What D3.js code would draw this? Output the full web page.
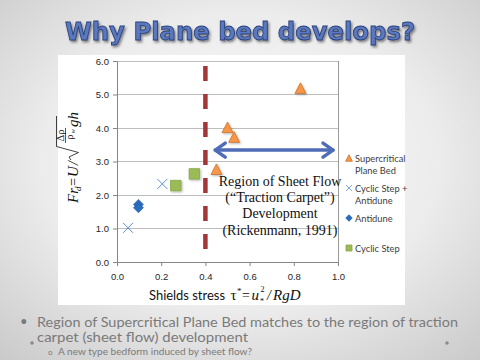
<!DOCTYPE html>
<html>
<head>
<meta charset="utf-8">
<script src="https://cdn.jsdelivr.net/npm/d3@7"></script>
<style>
  body { margin: 0; }
  svg { display: block; }
</style>
</head>
<body>
<div id="chart"></div>
<script>
// values
const planeBedX = [0.83, 0.50, 0.53, 0.45];
const planeBedY = [5.19, 4.02, 3.73, 2.77];
const stepAntiduneX = [0.05, 0.205];
const stepAntiduneY = [1.02, 2.33];
const antiduneX = [0.097, 0.097];
const antiduneY = [1.72, 1.62];
const cyclicStepX = [0.266, 0.35];
const cyclicStepY = [2.28, 2.63];

const xTicks = [0, 0.2, 0.4, 0.6, 0.8, 1.0];
const yTicks = [0, 1, 2, 3, 4, 5, 6];
const legendLabels = [["Supercritical", "Plane Bed"], ["Cyclic Step +", "Antidune"], ["Antidune"], ["Cyclic Step"]];
const sheetFlowText = ["Region of Sheet Flow", "(\u201CTraction Carpet\u201D)", "Development", "(Rickenmann, 1991)"];
const thresholdShields = 0.4;
const thresholdSpan = [0.36, 5.85];
const arrowSpan = [0.44, 0.982];
const arrowLevel = 3.34;

const W = 480, H = 360;
const svg = d3.select("#chart").append("svg").attr("width", W).attr("height", H);
const defs = svg.append("defs");

const bg = defs.append("radialGradient").attr("id", "bg")
    .attr("cx", "50%").attr("cy", "45%").attr("r", "75%");
bg.append("stop").attr("offset", "0%").attr("stop-color", "#fbfbfb");
bg.append("stop").attr("offset", "55%").attr("stop-color", "#ececec");
bg.append("stop").attr("offset", "100%").attr("stop-color", "#c9c9c9");

const shadow = defs.append("filter").attr("id", "shd").attr("x", "-30%").attr("y", "-30%").attr("width", "160%").attr("height", "160%");
shadow.append("feDropShadow").attr("dx", 1).attr("dy", 1).attr("stdDeviation", 0.8)
    .attr("flood-color", "#000").attr("flood-opacity", 0.3);

const tshadow = defs.append("filter").attr("id", "tshd").attr("x", "-10%").attr("y", "-30%").attr("width", "120%").attr("height", "160%");
tshadow.append("feDropShadow").attr("dx", 1.5).attr("dy", 2).attr("stdDeviation", 1.2)
    .attr("flood-color", "#333").attr("flood-opacity", 0.55);

svg.append("rect").attr("width", W).attr("height", H).attr("fill", "url(#bg)");

// title
svg.append("text").attr("x", 240).attr("y", 39.5).attr("text-anchor", "middle")
    .attr("font-family", "DejaVu Sans").attr("font-weight", "bold").attr("font-size", 25.5)
    .attr("textLength", 350).attr("lengthAdjust", "spacingAndGlyphs")
    .attr("fill", "#5a78bf").attr("stroke", "#2b417a").attr("stroke-width", 0.9)
    .attr("filter", "url(#tshd)")
    .text("Why Plane bed develops?");

// white chart panel
svg.append("rect").attr("x", 58).attr("y", 55).attr("width", 347).attr("height", 250).attr("fill", "#fff");

const x = d3.scaleLinear().domain([0, 1]).range([117, 338]);
const y = d3.scaleLinear().domain([0, 6]).range([262, 61]);

// grid
svg.append("g").selectAll("line").data(yTicks.slice(1)).join("line")
    .attr("x1", x(0)).attr("x2", x(1)).attr("y1", d => y(d)).attr("y2", d => y(d))
    .attr("stroke", "#bdbdbd").attr("stroke-width", 1).attr("shape-rendering", "crispEdges");
svg.append("line").attr("x1", x(1)).attr("x2", x(1)).attr("y1", y(6)).attr("y2", y(0))
    .attr("stroke", "#9a9a9a").attr("shape-rendering", "crispEdges");

const yAxis = svg.append("g").attr("transform", `translate(${x(0)},0)`)
    .call(d3.axisLeft(y).tickValues(yTicks).tickFormat(d3.format(".1f")).tickSize(4).tickSizeOuter(0));
const xAxis = svg.append("g").attr("transform", `translate(0,${y(0)})`)
    .call(d3.axisBottom(x).tickValues(xTicks).tickFormat(d3.format(".1f")).tickSize(4).tickSizeOuter(0));
[yAxis, xAxis].forEach(a => {
  a.select(".domain").attr("stroke", "#868686");
  a.selectAll(".tick line").attr("stroke", "#868686");
  a.selectAll(".tick text").attr("font-family", "Liberation Sans").attr("font-size", 9.5).attr("fill", "#262626");
});
yAxis.selectAll(".tick text").attr("x", -8);
xAxis.selectAll(".tick text").attr("y", 11);

// threshold line
svg.append("line").attr("x1", x(thresholdShields)).attr("x2", x(thresholdShields))
    .attr("y1", y(thresholdSpan[1])).attr("y2", y(thresholdSpan[0]))
    .attr("stroke", "#a3363a").attr("stroke-width", 4.5).attr("stroke-dasharray", "15,13");

// double arrow
const ax0 = x(arrowSpan[0]), ax1 = x(arrowSpan[1]), ay = y(arrowLevel);
const arrowG = svg.append("g").attr("fill", "none").attr("stroke", "#4f6cb8")
    .attr("stroke-width", 3.5).attr("stroke-linecap", "round").attr("stroke-linejoin", "round");
arrowG.append("line").attr("x1", ax0 + 1).attr("x2", ax1 - 1).attr("y1", ay).attr("y2", ay);
arrowG.append("path").attr("d", `M${ax0 + 11},${ay - 7} L${ax0 + 1},${ay} L${ax0 + 11},${ay + 7}`);
arrowG.append("path").attr("d", `M${ax1 - 11},${ay - 7} L${ax1 - 1},${ay} L${ax1 - 11},${ay + 7}`);

// markers
const tri = s => `M0,${-s * 0.5}L${s * 0.52},${s * 0.5}L${-s * 0.52},${s * 0.5}Z`;
const dia = s => `M0,${-s / 2}L${s / 2},0L0,${s / 2}L${-s / 2},0Z`;
const crs = s => `M${-s / 2},${-s / 2}L${s / 2},${s / 2}M${s / 2},${-s / 2}L${-s / 2},${s / 2}`;
const sq = s => `M${-s / 2},${-s / 2}h${s}v${s}h${-s}Z`;

svg.append("g").selectAll("path").data(d3.zip(cyclicStepX, cyclicStepY)).join("path")
    .attr("transform", d => `translate(${x(d[0])},${y(d[1])})`).attr("d", sq(10.5))
    .attr("fill", "#9bbb59").attr("stroke", "#85a646").attr("stroke-width", 0.8).attr("filter", "url(#shd)");
svg.append("g").selectAll("path").data(d3.zip(antiduneX, antiduneY)).join("path")
    .attr("transform", d => `translate(${x(d[0])},${y(d[1])})`).attr("d", dia(10))
    .attr("fill", "#2b6dbf").attr("stroke", "#1d5aa3").attr("stroke-width", 0.6);
svg.append("g").selectAll("path").data(d3.zip(stepAntiduneX, stepAntiduneY)).join("path")
    .attr("transform", d => `translate(${x(d[0])},${y(d[1])})`).attr("d", crs(10))
    .attr("fill", "none").attr("stroke", "#5b8fd4").attr("stroke-width", 1);
svg.append("g").selectAll("path").data(d3.zip(planeBedX, planeBedY)).join("path")
    .attr("transform", d => `translate(${x(d[0])},${y(d[1])})`).attr("d", tri(10.6))
    .attr("fill", "#f79646").attr("stroke", "#c8742f").attr("stroke-width", 0.8).attr("filter", "url(#shd)");

// sheet flow annotation
svg.append("g").selectAll("text").data(sheetFlowText).join("text")
    .attr("x", 280).attr("y", (d, i) => 186 + i * 16.2).attr("text-anchor", "middle")
    .attr("font-family", "Liberation Serif").attr("font-size", 14).attr("fill", "#111")
    .text(d => d);

// legend
const legendY = [158, 188, 218, 248];
const legendShapes = [
  {d: tri(6.5), fill: "#f79646", stroke: "#c8742f"},
  {d: crs(6), fill: "none", stroke: "#5b8fd4"},
  {d: dia(6.5), fill: "#2b6dbf", stroke: "#1d5aa3"},
  {d: sq(6), fill: "#9bbb59", stroke: "#85a646"}
];
const leg = svg.append("g").selectAll("g").data(legendLabels).join("g")
    .attr("transform", (d, i) => `translate(349,${legendY[i]})`);
leg.append("path").attr("d", (d, i) => legendShapes[i].d)
    .attr("fill", (d, i) => legendShapes[i].fill).attr("stroke", (d, i) => legendShapes[i].stroke)
    .attr("stroke-width", 0.8);
leg.each(function (lines) {
  d3.select(this).selectAll("text").data(lines).join("text")
      .attr("x", 6).attr("y", (d, i) => 3.5 + i * 12.5)
      .attr("font-family", "Lato").attr("font-size", 9.3).attr("fill", "#404040")
      .text(d => d);
});

// x axis title
const xt = svg.append("g").attr("fill", "#111");
xt.append("text").attr("x", 149).attr("y", 300).attr("font-family", "Lato").attr("font-size", 13.5)
    .attr("textLength", 76).attr("lengthAdjust", "spacingAndGlyphs").text("Shields stress");
const serif = (gx, gy, txt, size, italic) => xt.append("text").attr("x", gx).attr("y", gy)
    .attr("font-family", "Liberation Serif").attr("font-size", size)
    .attr("font-style", italic ? "italic" : "normal").text(txt);
serif(230.5, 300, "\u03C4", 15, false);
serif(237, 294, "*", 9, false);
serif(242, 300, "=", 14, false);
serif(251.5, 300, "u", 15, true);
serif(260.5, 292, "2", 8, false);
serif(260, 304, "*", 8, false);
serif(267, 300, "/", 14, true);
serif(273, 300, "RgD", 15, true);

// y axis title (rotated)
const yt = svg.append("g").attr("transform", "translate(78,160) rotate(-90)")
    .attr("font-family", "Liberation Serif").attr("fill", "#111");
const yText = (gx, gy, txt, size, italic, anchor) => yt.append("text").attr("x", gx).attr("y", gy)
    .attr("font-size", size).attr("font-style", italic ? "italic" : "normal")
    .attr("text-anchor", anchor || "start").text(txt);
yText(-43, 0, "Fr", 15, true);
yText(-31, 3, "d", 9, true);
yText(-26, 0, "=", 14, false);
yText(-17, 0, "U", 15, true);
yText(-5, 0, "/", 14, true);
yt.append("path").attr("d", "M0,-7 L3,-9 L7.5,0.5 L13.5,-21.5 L44,-21.5")
    .attr("fill", "none").attr("stroke", "#111").attr("stroke-width", 0.8);
yText(24.5, -14.5, "\u0394\u03C1", 10.5, false, "middle");
yt.append("line").attr("x1", 17).attr("x2", 32).attr("y1", -12.5).attr("y2", -12.5)
    .attr("stroke", "#111").attr("stroke-width", 0.7);
yText(23, -5, "\u03C1", 10.5, false, "middle");
yText(26.5, -3, "w", 6.5, true);
yText(33, 0, "gh", 15, true);

// bullet text
const bullets = svg.append("g").attr("font-family", "Lato").attr("fill", "#7a7a7a");
bullets.append("text").attr("x", 20).attr("y", 326).attr("font-size", 13).text("\u2022");
bullets.append("text").attr("x", 37).attr("y", 326.5).attr("font-size", 12.5)
    .attr("textLength", 421).attr("lengthAdjust", "spacingAndGlyphs")
    .text("Region of Supercritical Plane Bed matches to the region of traction");
bullets.append("text").attr("x", 37).attr("y", 341.5).attr("font-size", 12.5)
    .attr("textLength", 211).attr("lengthAdjust", "spacingAndGlyphs")
    .text("carpet (sheet flow) development");
bullets.append("text").attr("x", 48).attr("y", 354.5).attr("font-size", 8).text("o");
bullets.append("text").attr("x", 58).attr("y", 354.5).attr("font-size", 9.5)
    .attr("textLength", 194).attr("lengthAdjust", "spacingAndGlyphs")
    .text("A new type bedform induced by sheet flow?");
bullets.append("circle").attr("cx", 32).attr("cy", 343).attr("r", 1.8).attr("fill", "#8a8a8a");
bullets.append("circle").attr("cx", 447).attr("cy", 343).attr("r", 1.8).attr("fill", "#8a8a8a");
</script>
</body>
</html>
